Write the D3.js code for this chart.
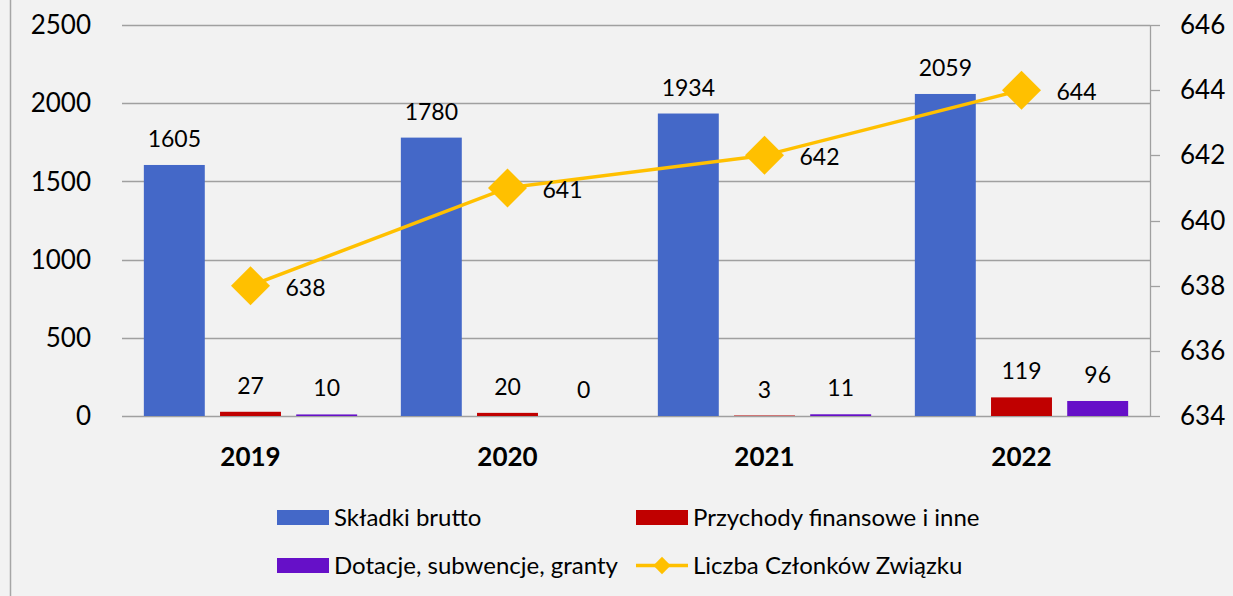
<!DOCTYPE html>
<html>
<head>
<meta charset="utf-8">
<script src="https://cdn.jsdelivr.net/npm/d3@7"></script>
<style>
  body { margin: 0; background: #f2f2f2; }
  svg { display: block; font-family: Lato, "Open Sans", sans-serif; }
</style>
</head>
<body>
<script>
'use strict';
const years = ['2019', '2020', '2021', '2022'];
const skladki = [1605, 1780, 1934, 2059];
const przychody = [27, 20, 3, 119];
const dotacje = [10, 0, 11, 96];
const czlonkowie = [638, 641, 642, 644];
const leftTicks = [0, 500, 1000, 1500, 2000, 2500];
const rightTicks = [634, 636, 638, 640, 642, 644, 646];

const series = [
  {name: 'Składki brutto', values: skladki, color: '#4468c8'},
  {name: 'Przychody finansowe i inne', values: przychody, color: '#c00000'},
  {name: 'Dotacje, subwencje, granty', values: dotacje, color: '#6610c8'}
];
const lineName = 'Liczba Członków Związku';
const lineColor = '#ffc000';

let width = 1233, height = 596;
let plotLeft = 122, plotRight = 1150, plotTop = 25, plotBottom = 416;

let svg = d3.select('body').append('svg')
  .attr('width', width)
  .attr('height', height);

svg.append('rect').attr('width', width).attr('height', height).attr('fill', '#f2f2f2');
svg.append('line')
  .attr('x1', 10.5).attr('x2', 10.5).attr('y1', 0).attr('y2', height)
  .attr('stroke', '#a6a6a6').attr('stroke-width', 1.5);

let y = d3.scaleLinear().domain([0, 2500]).range([plotBottom, plotTop]);
let y2 = d3.scaleLinear().domain([634, 646]).range([plotBottom, plotTop]);
let x0 = d3.scaleBand().domain(years).range([plotLeft, plotRight]).paddingInner(0.17).paddingOuter(0.085);
let x1 = d3.scaleBand().domain(d3.range(series.length)).range([0, x0.bandwidth()]).paddingInner(0.2);

// gridlines
svg.append('g').selectAll('line').data(leftTicks).join('line')
  .attr('x1', plotLeft).attr('x2', plotRight)
  .attr('y1', d => Math.round(y(d)) + 0.5).attr('y2', d => Math.round(y(d)) + 0.5)
  .attr('stroke', '#a0a0a0').attr('stroke-width', 1.3);

// left tick labels
svg.append('g').selectAll('text').data(leftTicks).join('text')
  .attr('x', 91).attr('y', d => y(d))
  .attr('dy', '0.35em')
  .attr('text-anchor', 'end')
  .attr('font-size', 26)
  .text(d => d);

// right axis
let rAxis = svg.append('g');
rAxis.append('line')
  .attr('x1', plotRight + 0.5).attr('x2', plotRight + 0.5).attr('y1', plotTop).attr('y2', plotBottom)
  .attr('stroke', '#a0a0a0').attr('stroke-width', 1.3);
rAxis.selectAll('line.t').data(rightTicks).join('line').attr('class', 't')
  .attr('x1', plotRight).attr('x2', plotRight + 10)
  .attr('y1', d => Math.round(y2(d)) + 0.5).attr('y2', d => Math.round(y2(d)) + 0.5)
  .attr('stroke', '#a0a0a0').attr('stroke-width', 1.3);
rAxis.selectAll('text').data(rightTicks).join('text')
  .attr('x', 1180).attr('y', d => y2(d))
  .attr('dy', '0.35em')
  .attr('font-size', 26)
  .text(d => d);

// bars
let groups = svg.append('g').selectAll('g').data(years).join('g')
  .attr('transform', d => `translate(${x0(d)},0)`);

groups.selectAll('rect').data((yr, i) => series.map((s, k) => ({k, v: s.values[i], color: s.color})))
  .join('rect')
  .attr('x', d => x1(d.k))
  .attr('width', x1.bandwidth())
  .attr('y', d => y(d.v))
  .attr('height', d => y(0) - y(d.v))
  .attr('fill', d => d.color);

groups.selectAll('text').data((yr, i) => series.map((s, k) => ({k, v: s.values[i]})))
  .join('text')
  .attr('x', d => x1(d.k) + x1.bandwidth() / 2)
  .attr('y', d => y(d.v) - 26)
  .attr('dy', '0.35em')
  .attr('text-anchor', 'middle')
  .attr('font-size', 23)
  .text(d => d.v);

// category labels
svg.append('g').selectAll('text').data(years).join('text')
  .attr('x', d => x0(d) + x0.bandwidth() / 2)
  .attr('y', 457)
  .attr('dy', '0.35em')
  .attr('text-anchor', 'middle')
  .attr('font-size', 26)
  .attr('font-weight', 'bold')
  .text(d => d);

// line series
let cx = d => x0(d) + x0.bandwidth() / 2;
let pts = years.map((yr, i) => [cx(yr), y2(czlonkowie[i])]);
svg.append('path')
  .attr('d', d3.line()(pts))
  .attr('fill', 'none')
  .attr('stroke', lineColor)
  .attr('stroke-width', 3.5);

svg.append('g').selectAll('path').data(pts).join('path')
  .attr('transform', d => `translate(${d[0]},${d[1]}) rotate(45)`)
  .attr('d', d3.symbol().type(d3.symbolSquare).size(760))
  .attr('fill', lineColor);

svg.append('g').selectAll('text').data(pts).join('text')
  .attr('x', d => d[0] + 35)
  .attr('y', d => d[1] + 2)
  .attr('dy', '0.35em')
  .attr('font-size', 23)
  .text((d, i) => czlonkowie[i]);

// legend
let legendItems = [
  {name: series[0].name, color: series[0].color, x: 277, y: 517.5, type: 'bar'},
  {name: series[1].name, color: series[1].color, x: 636, y: 517.5, type: 'bar'},
  {name: series[2].name, color: series[2].color, x: 277, y: 565.5, type: 'bar'},
  {name: lineName, color: lineColor, x: 636, y: 565.5, type: 'line'}
];
let leg = svg.append('g').selectAll('g').data(legendItems).join('g')
  .attr('transform', d => `translate(${d.x},${d.y})`);
leg.filter(d => d.type === 'bar').append('rect')
  .attr('x', 0).attr('y', -7.5).attr('width', 52).attr('height', 15)
  .attr('fill', d => d.color);
leg.filter(d => d.type === 'line').append('line')
  .attr('x1', 0).attr('x2', 52).attr('y1', 0).attr('y2', 0)
  .attr('stroke', d => d.color).attr('stroke-width', 3.5);
leg.filter(d => d.type === 'line').append('path')
  .attr('transform', 'translate(26,0) rotate(45)')
  .attr('d', d3.symbol().type(d3.symbolSquare).size(150))
  .attr('fill', d => d.color);
leg.append('text')
  .attr('x', 57).attr('y', 0).attr('dy', '0.35em')
  .attr('font-size', 24)
  .text(d => d.name);
</script>
</body>
</html>
